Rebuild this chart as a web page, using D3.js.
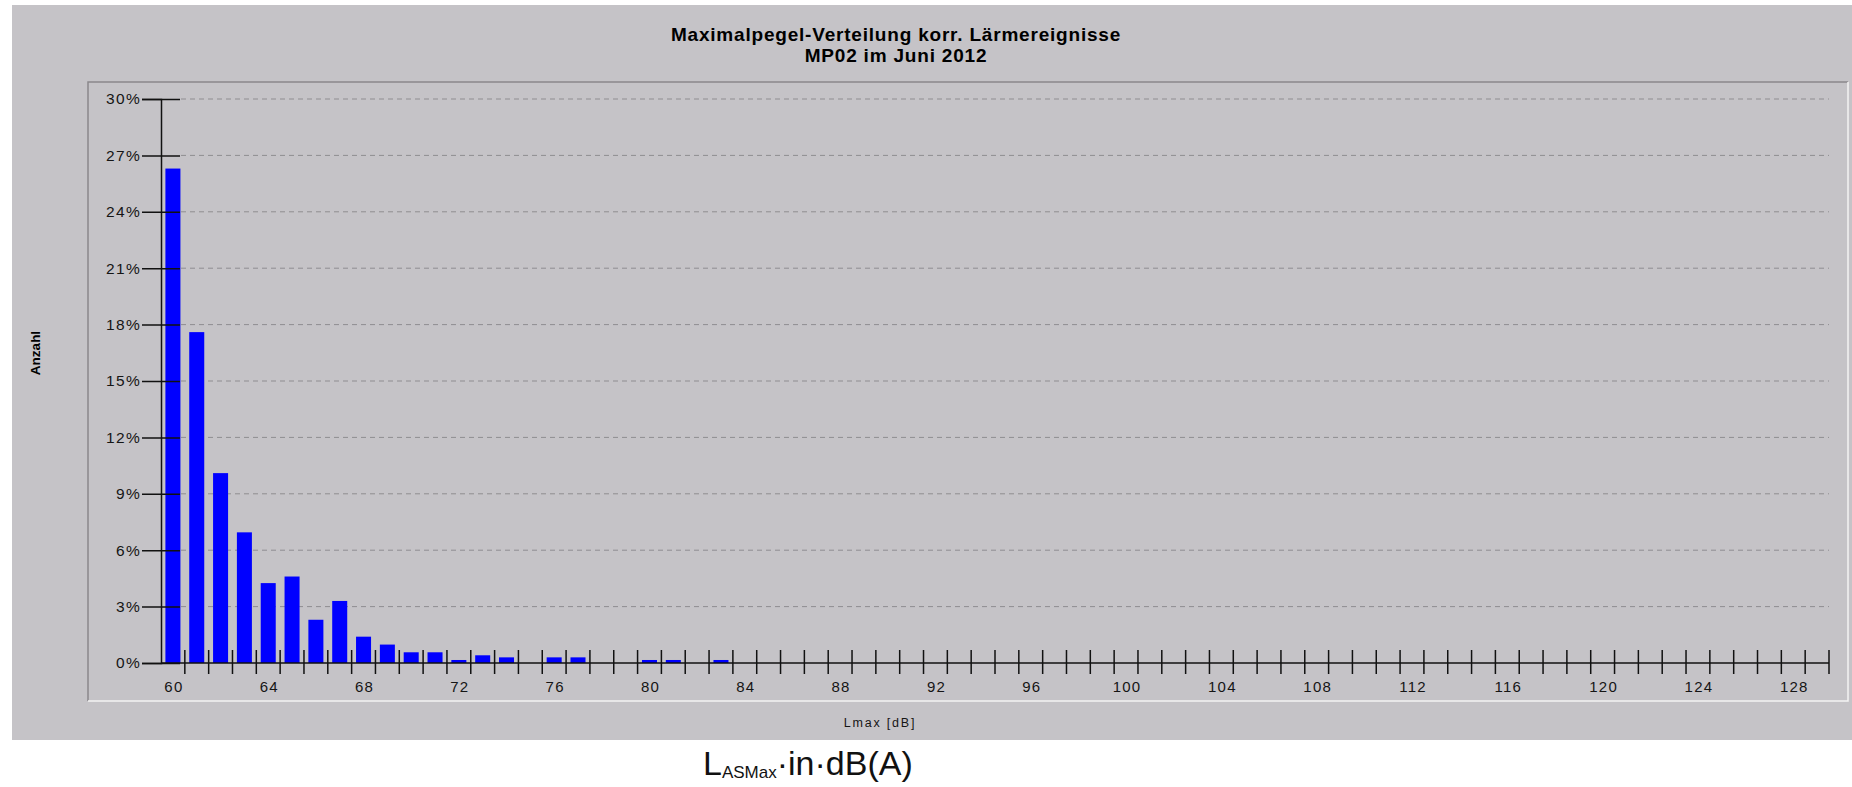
<!DOCTYPE html>
<html>
<head>
<meta charset="utf-8">
<script src="https://cdn.jsdelivr.net/npm/d3@7"></script>
<style>
  body { margin: 0; background: #fff; }
  svg { display: block; }
  text { font-family: "Liberation Sans", Arial, sans-serif; }
</style>
</head>
<body>
<div id="vis"></div>
<script>
// Lmax classes (dB) and share of events (%)
var levels = d3.range(60, 130);
var shares = [26.3, 17.6, 10.1, 6.95, 4.25, 4.6, 2.3, 3.3, 1.4, 0.98,
              0.57, 0.57, 0.16, 0.41, 0.3, 0, 0.3, 0.3, 0, 0,
              0.16, 0.16, 0, 0.16];
var yTicks = [0, 3, 6, 9, 12, 15, 18, 21, 24, 27, 30];
var xLabels = d3.range(60, 129, 4);
var title1 = "Maximalpegel-Verteilung korr. Lärmereignisse";
var title2 = "MP02 im Juni 2012";

var width = 1852, height = 787;

var data = levels.map(function(d, i) {
    return { level: d, value: shares[i] || 0 };
});

var svg = d3.select("#vis").append("svg")
    .attr("width", width)
    .attr("height", height);

// gray panel
svg.append("rect")
    .attr("x", 12).attr("y", 5)
    .attr("width", width - 12).attr("height", 735)
    .attr("fill", "#c5c3c7");

// inner box (inset look)
var box = { x0: 88, y0: 82, x1: 1848, y1: 701 };
svg.append("path")
    .attr("d", "M" + box.x0 + "," + box.y1 + "V" + box.y0 + "H" + box.x1)
    .attr("fill", "none").attr("stroke", "#8a888c").attr("stroke-width", 1.5);
svg.append("path")
    .attr("d", "M" + box.x0 + "," + box.y1 + "H" + box.x1 + "V" + box.y0)
    .attr("fill", "none").attr("stroke", "#f4f4f4").attr("stroke-width", 1.5);

// titles
svg.append("text")
    .attr("x", 896).attr("y", 41)
    .attr("text-anchor", "middle")
    .style("font-size", "19px").style("font-weight", "bold")
    .style("letter-spacing", "0.8px")
    .text(title1);
svg.append("text")
    .attr("x", 896).attr("y", 62)
    .attr("text-anchor", "middle")
    .style("font-size", "19px").style("font-weight", "bold")
    .style("letter-spacing", "0.8px")
    .text(title2);

var x = d3.scaleBand()
    .domain(levels)
    .range([161, 1829])
    .paddingInner(0.37)
    .paddingOuter(0.185);

var y = d3.scaleLinear()
    .domain([0, 30])
    .range([663, 99]);

// dashed grid
svg.append("g")
    .selectAll("line")
    .data(yTicks.filter(function(d) { return d > 0; }))
    .join("line")
    .attr("x1", 181).attr("x2", 1829)
    .attr("y1", function(d) { return y(d); })
    .attr("y2", function(d) { return y(d); })
    .attr("stroke", "#8f8d91")
    .attr("stroke-width", 1)
    .attr("stroke-dasharray", "5,4");

// bars
svg.append("g")
    .selectAll("rect")
    .data(data.filter(function(d) { return d.value > 0; }))
    .join("rect")
    .attr("x", function(d) { return x(d.level); })
    .attr("y", function(d) { return y(d.value); })
    .attr("width", x.bandwidth())
    .attr("height", function(d) { return y(0) - y(d.value); })
    .attr("fill", "#0000ff");

// y axis
var yAxis = svg.append("g")
    .attr("transform", "translate(161,0)")
    .call(d3.axisLeft(y).tickValues(yTicks)
        .tickFormat(function(d) { return d + "%"; })
        .tickSize(19).tickPadding(2));
yAxis.select(".domain").attr("stroke", "#111").attr("stroke-width", 1.5);
yAxis.selectAll(".tick line").attr("x2", 19).attr("x1", -19)
    .attr("stroke", "#111").attr("stroke-width", 1.5);
yAxis.selectAll(".tick text")
    .attr("x", -20)
    .style("font-family", "'Liberation Sans', Arial, sans-serif")
    .style("font-size", "15.5px").style("letter-spacing", "1.3px")
    .attr("fill", "#151515");

// x axis: boundary ticks and labels
var edge = x.step() * x.paddingInner() / 2;
svg.append("line")
    .attr("x1", 161).attr("x2", 1829)
    .attr("y1", y(0)).attr("y2", y(0))
    .attr("stroke", "#111").attr("stroke-width", 1.5);
svg.append("g")
    .selectAll("line")
    .data(levels)
    .join("line")
    .attr("x1", function(d) { return x(d) + x.bandwidth() + edge; })
    .attr("x2", function(d) { return x(d) + x.bandwidth() + edge; })
    .attr("y1", y(0) - 13).attr("y2", y(0) + 11)
    .attr("stroke", "#111").attr("stroke-width", 1.5);
svg.append("g")
    .selectAll("text")
    .data(xLabels)
    .join("text")
    .attr("x", function(d) { return x(d) + x.bandwidth() / 2 + 1; })
    .attr("y", 692)
    .attr("text-anchor", "middle")
    .style("font-size", "15px").style("letter-spacing", "1.2px")
    .attr("fill", "#151515")
    .text(function(d) { return d; });

// axis titles
svg.append("text")
    .attr("transform", "translate(40,353) rotate(-90)")
    .attr("text-anchor", "middle")
    .style("font-size", "13.5px").style("font-weight", "bold")
    .text("Anzahl");
svg.append("text")
    .attr("x", 880).attr("y", 727)
    .attr("text-anchor", "middle")
    .style("font-size", "12.5px").style("letter-spacing", "1.8px")
    .attr("fill", "#151515")
    .text("Lmax [dB]");

// caption below the picture
var cap = svg.append("text")
    .attr("x", 703).attr("y", 775)
    .style("font-size", "34px").attr("fill", "#111");
cap.append("tspan").text("L");
cap.append("tspan").attr("dy", 3).style("font-size", "17px").text("ASMax");
cap.append("tspan").attr("dy", -3).text("·in·dB(A)");
</script>
</body>
</html>
